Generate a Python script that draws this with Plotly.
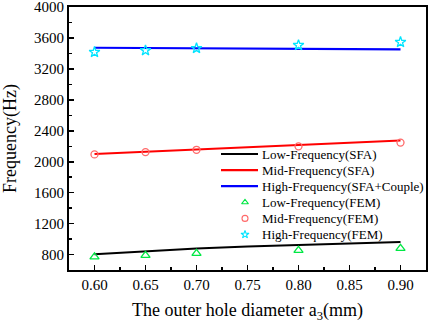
import plotly.graph_objects as go

x_sfa = [0.60, 0.65, 0.70, 0.75, 0.80, 0.85, 0.90]
low_sfa = [805, 843, 878, 903, 925, 945, 963]
mid_sfa = [2100, 2130, 2160, 2190, 2220, 2248, 2275]
high_sfa = [3475, 3472, 3468, 3465, 3462, 3458, 3455]

x_fem = [0.60, 0.65, 0.70, 0.80, 0.90]
low_fem = [770, 790, 815, 855, 880]
mid_fem = [2095, 2125, 2155, 2200, 2248]
high_fem = [3418, 3440, 3468, 3508, 3547]

x_ticks = [0.60, 0.65, 0.70, 0.75, 0.80, 0.85, 0.90]
x_ticklabels = ["0.60", "0.65", "0.70", "0.75", "0.80", "0.85", "0.90"]
y_ticks = [800, 1200, 1600, 2000, 2400, 2800, 3200, 3600, 4000]

legend_names = ["Low-Frequency(SFA)", "Mid-Frequency(SFA)", "High-Frequency(SFA+Couple)",
                "Low-Frequency(FEM)", "Mid-Frequency(FEM)", "High-Frequency(FEM)"]

FONT = "Liberation Serif"
C_LOW, C_MID, C_HIGH = "black", "#ff0000", "#0000ff"
C_TRI, C_CIR, C_STAR = "#00e844", "#ff6a6a", "#00e4ff"

fig = go.Figure()
fig.add_trace(go.Scatter(x=x_sfa, y=low_sfa, mode="lines", name=legend_names[0],
                         line=dict(color=C_LOW, width=2)))
fig.add_trace(go.Scatter(x=x_sfa, y=mid_sfa, mode="lines", name=legend_names[1],
                         line=dict(color=C_MID, width=2)))
fig.add_trace(go.Scatter(x=x_sfa, y=high_sfa, mode="lines", name=legend_names[2],
                         line=dict(color=C_HIGH, width=2.2)))
fig.add_trace(go.Scatter(x=x_fem, y=low_fem, mode="markers", name=legend_names[3],
                         marker=dict(symbol="triangle-up-open", color=C_TRI, size=8, line=dict(width=1.3))))
fig.add_trace(go.Scatter(x=x_fem, y=mid_fem, mode="markers", name=legend_names[4],
                         marker=dict(symbol="circle-open", color=C_CIR, size=7, line=dict(width=1.3))))
fig.add_trace(go.Scatter(x=x_fem, y=high_fem, mode="markers", name=legend_names[5],
                         marker=dict(symbol="star-open", color=C_STAR, size=8, line=dict(width=1.3))))

# Manual legend drawn on a hidden overlay axis measured in figure pixels
L, R, T, B = 69, 426, 7, 270
leg_y0, leg_dy = 154, 16.1
line_x0, line_x1, mark_x, text_x = 221, 258, 245, 261
styles = [("line", C_LOW, None), ("line", C_MID, None), ("line", C_HIGH, None),
          ("marker", C_TRI, "triangle-up-open"), ("marker", C_CIR, "circle-open"),
          ("marker", C_STAR, "star-open")]
for i, (name, (kind, col, sym)) in enumerate(zip(legend_names, styles)):
    yy = leg_y0 + i * leg_dy
    if kind == "line":
        fig.add_trace(go.Scatter(x=[line_x0, line_x1], y=[yy, yy], mode="lines", xaxis="x2", yaxis="y2",
                                 line=dict(color=col, width=2.2), hoverinfo="skip"))
    else:
        fig.add_trace(go.Scatter(x=[mark_x], y=[yy], mode="markers", xaxis="x2", yaxis="y2",
                                 marker=dict(symbol=sym, color=col, size=6, line=dict(width=1.1)),
                                 hoverinfo="skip"))
    fig.add_annotation(x=text_x, y=yy, xref="x2", yref="y2", text=name, showarrow=False,
                       xanchor="left", yanchor="middle", borderpad=0,
                       font=dict(family=FONT, size=13, color="black"))

def axis_common():
    return dict(showline=True, linecolor="black", linewidth=2, mirror=True,
                ticks="inside", ticklen=5, tickwidth=1.5, tickcolor="black",
                showgrid=False, zeroline=False, automargin=False,
                ticklabeloverflow="allow",
                tickfont=dict(family=FONT, size=15, color="black"))

fig.update_layout(
    width=429, height=323,
    margin=dict(l=L, r=429 - R, t=T, b=323 - B),
    plot_bgcolor="white", paper_bgcolor="white",
    showlegend=False,
    xaxis=dict(range=[0.575, 0.925], tickvals=x_ticks, ticktext=x_ticklabels,
               minor=dict(ticks="inside", ticklen=3, tickwidth=1.5, tickcolor="black",
                          dtick=0.025, tick0=0.575),
               title=dict(text="The outer hole diameter a<sub>3</sub>(mm)",
                          font=dict(family=FONT, size=18, color="black")),
               **axis_common()),
    yaxis=dict(range=[600, 4002], tickvals=y_ticks,
               minor=dict(ticks="inside", ticklen=3, tickwidth=1.5, tickcolor="black",
                          dtick=200, tick0=0),
               title=dict(text="Frequency(Hz)", font=dict(family=FONT, size=18, color="black")),
               **axis_common()),
    xaxis2=dict(overlaying="x", range=[L, R], visible=False, fixedrange=True),
    yaxis2=dict(overlaying="y", range=[B, T], visible=False, fixedrange=True),
)

fig.write_html("out.html", config={"displayModeBar": False, "staticPlot": True},
               post_script="document.body.style.margin='0';document.body.style.overflow='hidden';")
